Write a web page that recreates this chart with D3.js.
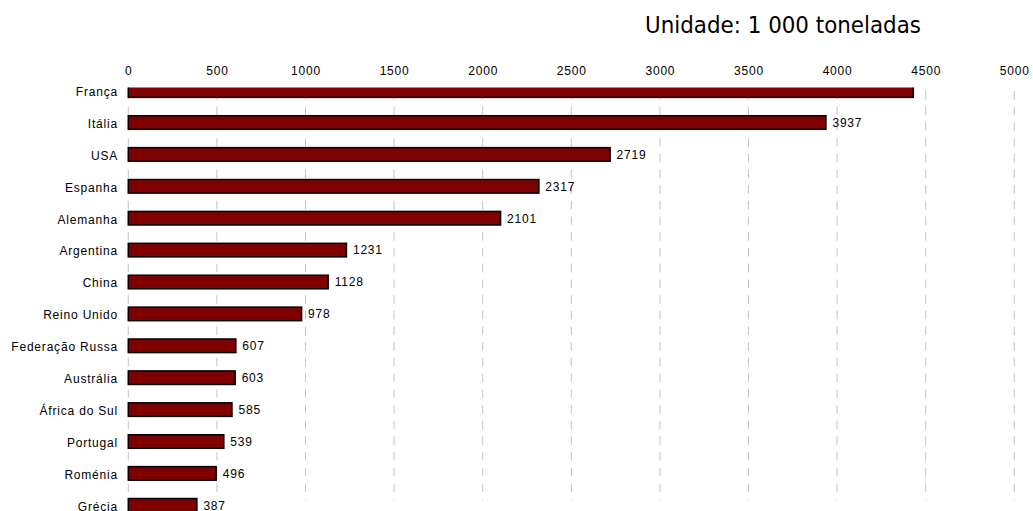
<!DOCTYPE html>
<html>
<head>
<meta charset="utf-8">
<script src="https://cdn.jsdelivr.net/npm/d3@7"></script>
<style>
  html, body { margin: 0; padding: 0; background: #fff; }
  svg { display: block; }
  .lbl { font-family: "Liberation Sans", Arial, sans-serif; font-size: 12px; letter-spacing: 0.8px; fill: #000; }
  .unit { font-family: "DejaVu Sans", Verdana, sans-serif; font-size: 23px; fill: #000; }
</style>
</head>
<body>
<svg id="chart" width="1033" height="511"></svg>
<script>
// Wine production by country (1 000 tonnes)
const countries = ["França", "Itália", "USA", "Espanha", "Alemanha", "Argentina", "China",
  "Reino Unido", "Federação Russa", "Austrália", "África do Sul", "Portugal", "Roménia", "Grécia"];
const values = [4430, 3937, 2719, 2317, 2101, 1231, 1128, 978, 607, 603, 585, 539, 496, 387];
// whether the value is written next to the bar
const showValue = [false, true, true, true, true, true, true, true, true, true, true, true, true, true];
const tickValues = [0, 500, 1000, 1500, 2000, 2500, 3000, 3500, 4000, 4500, 5000];
const unitLabel = "Unidade: 1 000 toneladas";

const W = 1033, H = 511;
const svg = d3.select("#chart");

const x = d3.scaleLinear().domain([0, 5000]).range([128.3, 1014.3]);
const y = d3.scaleBand().domain(countries).range([74.65, 521.25]).paddingInner(0.575).paddingOuter(0.2875);

// plot area clipped at its top edge, just under the tick labels
svg.append("defs").append("clipPath").attr("id", "plotClip")
  .append("rect").attr("x", 0).attr("y", 87.5).attr("width", W).attr("height", H - 87.5);

// unit caption
svg.append("text").attr("class", "unit")
  .attr("x", 645).attr("y", 33)
  .attr("textLength", 276).attr("lengthAdjust", "spacingAndGlyphs")
  .text(unitLabel);

// vertical dashed gridlines
svg.append("g").selectAll("line").data(tickValues).join("line")
  .attr("x1", d => x(d)).attr("x2", d => x(d))
  .attr("y1", 91).attr("y2", 500)
  .attr("stroke", "#c4c4c4").attr("stroke-width", 1)
  .attr("stroke-dasharray", "8.5,7.2");

// top axis tick labels
const axis = d3.axisTop(x).tickValues(tickValues).tickSize(0).tickPadding(0).tickFormat(d3.format("d"));
const ax = svg.append("g").attr("transform", "translate(0,75)").call(axis);
ax.select(".domain").remove();
ax.selectAll("text").attr("class", "lbl").attr("dy", 0).attr("font-family", null).attr("font-size", null);

const plot = svg.append("g").attr("clip-path", "url(#plotClip)");

// bars
plot.selectAll("rect.bar").data(countries).join("rect")
  .attr("class", "bar")
  .attr("x", x(0))
  .attr("y", d => y(d))
  .attr("width", (d, i) => x(values[i]) - x(0))
  .attr("height", y.bandwidth())
  .attr("fill", "#7f0000")
  .attr("stroke", "#000").attr("stroke-width", 1.5);

// value labels
plot.selectAll("text.val").data(countries.filter((d, i) => showValue[i])).join("text")
  .attr("class", "lbl val")
  .attr("x", d => x(values[countries.indexOf(d)]) + 6.5)
  .attr("y", d => y(d) + y.bandwidth() / 2 + 4.3)
  .text(d => values[countries.indexOf(d)]);

// category labels
svg.append("g").selectAll("text").data(countries).join("text")
  .attr("class", "lbl")
  .attr("x", 118)
  .attr("y", d => y(d) + y.bandwidth() / 2 + 5.3)
  .attr("text-anchor", "end")
  .text(d => d);
</script>
</body>
</html>
